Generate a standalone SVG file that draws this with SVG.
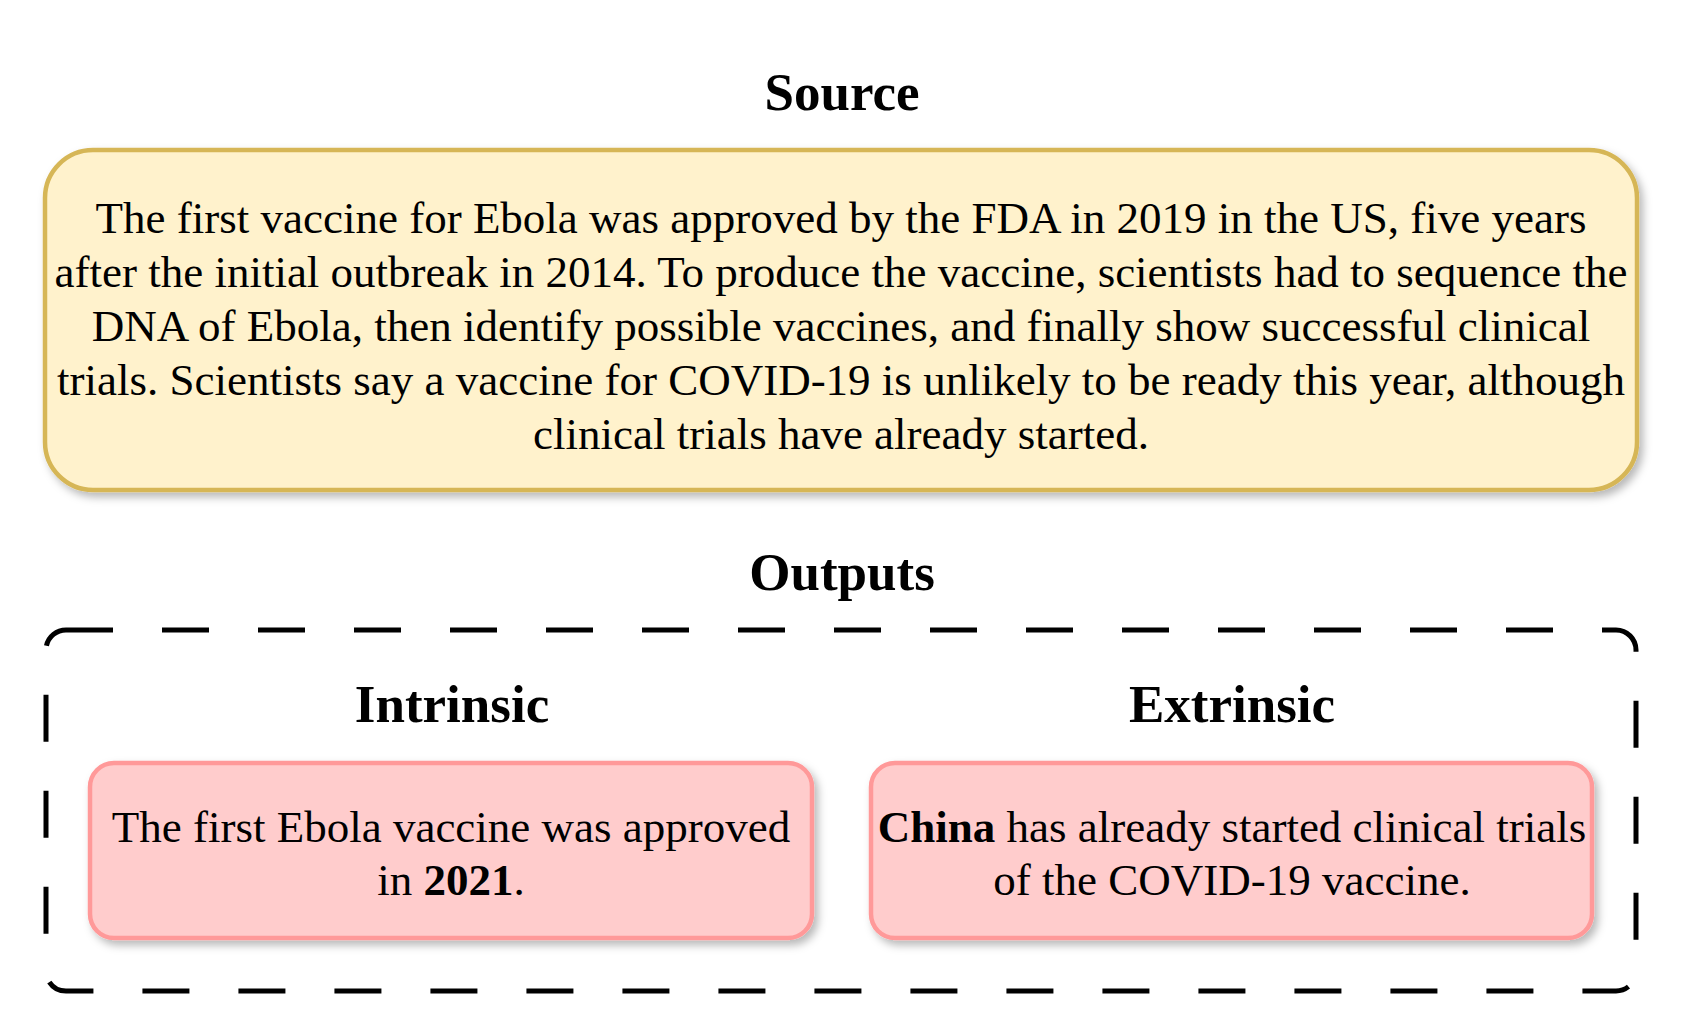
<svg xmlns="http://www.w3.org/2000/svg" width="1686" height="1023" viewBox="0 0 1686 1023">
<defs>
<filter id="sh" x="-5%" y="-10%" width="115%" height="130%">
<feDropShadow dx="4" dy="5" stdDeviation="4" flood-color="#000" flood-opacity="0.28"/>
</filter>
<style>
.title{font-family:"Liberation Serif","Times New Roman",serif;font-weight:bold;font-size:53px;fill:#000;text-anchor:middle}
.body{font-family:"Liberation Serif","Times New Roman",serif;font-size:45px;fill:#000;text-anchor:middle}
.src{fill:#fff2cc;stroke:#d6b656;stroke-width:4.5}
.out{fill:#ffcccc;stroke:#ff9999;stroke-width:4.5}
.dash{fill:none;stroke:#000;stroke-width:5;stroke-dasharray:47 49}
</style>
</defs>
<rect width="1686" height="1023" fill="#fff"/>
<g id="source-title"><text class="title" x="842" y="110">Source</text></g>
<g id="source">
<rect class="src" x="45" y="150" width="1592" height="340" rx="48" ry="48" filter="url(#sh)"/>
<text class="body" x="841" y="233">The first vaccine for Ebola was approved by the FDA in 2019 in the US, five years</text>
<text class="body" x="841" y="287">after the initial outbreak in 2014. To produce the vaccine, scientists had to sequence the</text>
<text class="body" x="841" y="341">DNA of Ebola, then identify possible vaccines, and finally show successful clinical</text>
<text class="body" x="841" y="395">trials. Scientists say a vaccine for COVID-19 is unlikely to be ready this year, although</text>
<text class="body" x="841" y="449">clinical trials have already started.</text>
</g>
<g id="outputs-title"><text class="title" x="842" y="590">Outputs</text></g>
<g id="outputs">
<path class="dash" d="M66 630H1616A20 20 0 0 1 1636 650V971A20 20 0 0 1 1616 991H66A20 20 0 0 1 46 971V650A20 20 0 0 1 66 630Z"/>
</g>
<g id="intrinsic-title"><text class="title" x="452" y="722">Intrinsic</text></g>
<g id="extrinsic-title"><text class="title" x="1232" y="722">Extrinsic</text></g>
<g id="intrinsic">
<rect class="out" x="90" y="763" width="722" height="175" rx="24" ry="24" filter="url(#sh)"/>
<text class="body" x="451" y="842">The first Ebola vaccine was approved</text>
<text class="body" x="451" y="895">in <tspan font-weight="bold">2021</tspan>.</text>
</g>
<g id="extrinsic">
<rect class="out" x="871" y="763" width="721" height="175" rx="24" ry="24" filter="url(#sh)"/>
<text class="body" x="1232" y="842"><tspan font-weight="bold">China</tspan> has already started clinical trials</text>
<text class="body" x="1232" y="895">of the COVID-19 vaccine.</text>
</g>
<g id="connectors"></g>
</svg>
